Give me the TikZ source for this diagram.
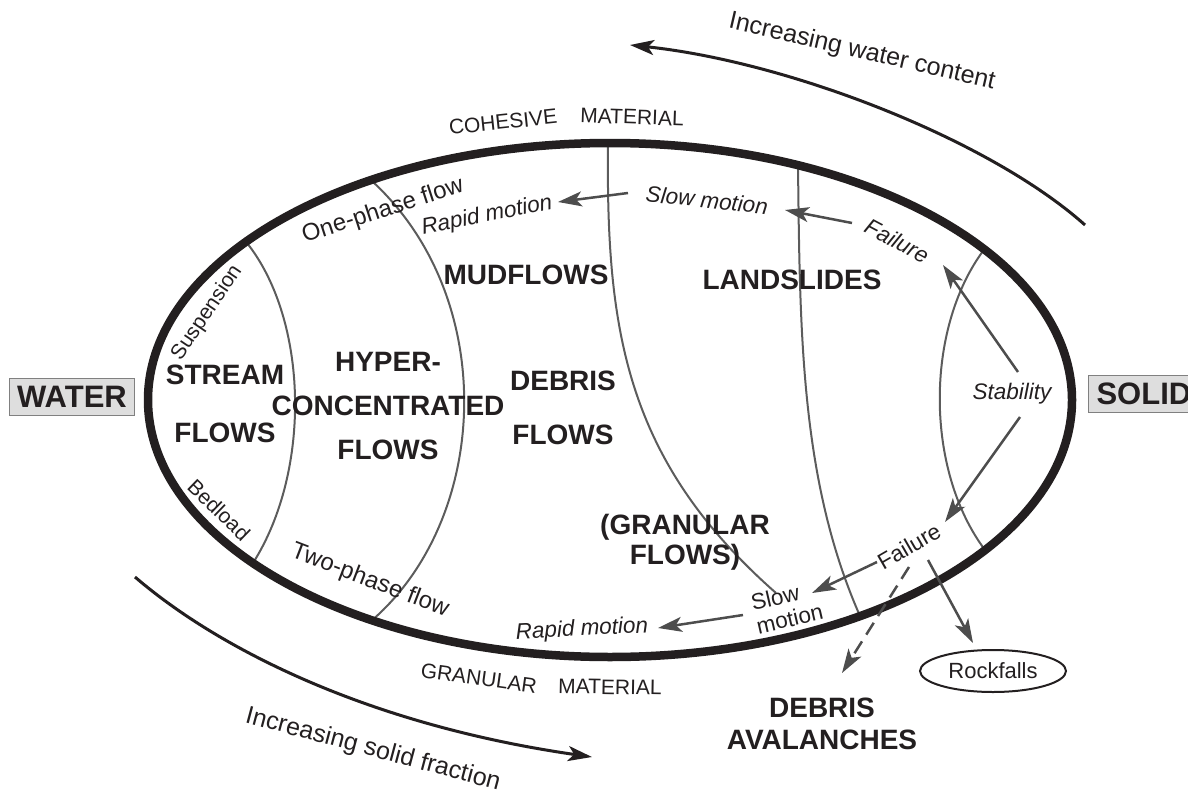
\documentclass[tikz,border=0pt]{standalone}
\usepackage{fontspec}
\setmainfont{Liberation Sans}
\usetikzlibrary{arrows.meta,shapes.geometric}

\definecolor{ink}{HTML}{231F20}
\definecolor{zoneline}{HTML}{5C5C5C}
\definecolor{movegray}{HTML}{4D4D4D}
\definecolor{boxgray}{HTML}{DEDEDE}

\begin{document}
\begin{tikzpicture}[x=1pt,y=-1pt,
    kind/.style={font=\fontsize{28}{32}\selectfont\bfseries, text=ink, align=center, inner sep=0pt},
    remark/.style={font=\fontsize{24}{25}\selectfont, text=ink, inner sep=1pt},
    motionlbl/.style={font=\fontsize{22.5}{24}\selectfont\itshape, text=ink, inner sep=1pt},
    matl/.style={font=\fontsize{21}{24}\selectfont, text=ink, inner sep=0pt},
    endbox/.style={draw=gray, fill=boxgray, line width=1pt, text=ink,
      font=\fontsize{31}{31}\selectfont\bfseries, minimum height=37pt, inner xsep=8pt},
    limitline/.style={draw=zoneline, line width=2pt},
    trendarr/.style={draw=ink, line width=3pt, -{Stealth[length=24pt,width=15pt,inset=6pt]}},
    movearr/.style={draw=movegray, line width=2.5pt, -{Stealth[length=24pt,width=15pt,inset=6pt]}}]
  \useasboundingbox (0,0) rectangle (1188,792);

  % zone limits
  \draw[limitline] (247,243) .. controls (308,320) and (312,470) .. (253,563);
  \draw[limitline] (373,182) .. controls (500,300) and (490,520) .. (370,622);
  \draw[limitline] (608,143) .. controls (606,330) and (625,460) .. (776,593);
  \draw[limitline] (798,166) .. controls (800,330) and (800,480) .. (860,616);
  \draw[limitline] (983,251) .. controls (925,330) and (925,470) .. (985,550);

  \draw[draw=ink, line width=8.5pt] (610,400) ellipse [x radius=462pt, y radius=257pt];

  \node[endbox] (water) at (72,397) {WATER};
  \node[endbox, anchor=west] (solid) at (1088,394) {SOLID};

  \node[kind] (stream) at (225,404) {STREAM\\[26pt]FLOWS};
  \node[kind] (hyper) at (388,406) {HYPER-\\[12pt]CONCENTRATED\\[12pt]FLOWS};
  \node[kind] (mud) at (526,275) {MUDFLOWS};
  \node[kind] (debris) at (563,408) {DEBRIS\\[22pt]FLOWS};
  \node[kind] (slides) at (792,280) {LANDSLIDES};
  \node[kind] (granular) at (685,542) {(GRANULAR\\[-2pt]FLOWS)};
  \node[kind] (avalanche) at (822,724) {DEBRIS\\[0pt]AVALANCHES};

  \node[matl, rotate=6] (coh) at (503,122) {COHESIVE};
  \node[matl, rotate=-2] (cohmat) at (632,117) {MATERIAL};
  \node[matl, rotate=-8] (gran) at (479,678) {GRANULAR};
  \node[matl, rotate=-1] (granmat) at (610,687) {MATERIAL};

  \node[remark, font=\fontsize{21}{22}\selectfont, rotate=56] (susp) at (207,313) {Suspension};
  \node[remark, font=\fontsize{21}{22}\selectfont, rotate=-44] (bed) at (219,510) {Bedload};
  \node[remark, rotate=18] (onephase) at (383,211) {One-phase flow};
  \node[remark, rotate=-21] (twophase) at (370,581) {Two-phase flow};
  \node[motionlbl, rotate=11] (rapidtop) at (487,216) {Rapid motion};
  \node[motionlbl, rotate=-6] (slowtop) at (707,200) {Slow motion};
  \node[motionlbl, rotate=-28] (failtop) at (897,241) {Failure};
  \node[motionlbl] (stab) at (1012,394) {Stability};
  \node[remark, font=\fontsize{22.5}{24}\selectfont, rotate=30] (failbot) at (909,546) {Failure};
  \node[remark, font=\fontsize{22.5}{24}\selectfont, rotate=13, align=left] (slowbot) at (787,607) {Slow\\motion};
  \node[motionlbl, rotate=3] (rapidbot) at (582,630) {Rapid motion};
  \node[remark, font=\fontsize{22}{24}\selectfont, draw=ink, line width=2pt, ellipse,
    minimum width=146pt, minimum height=42pt, inner sep=0pt] (rock) at (993,671) {Rockfalls};

  \node[remark, font=\fontsize{25}{26}\selectfont, rotate=-13] (wetlbl) at (862,52) {Increasing water content};
  \node[remark, font=\fontsize{25}{26}\selectfont, rotate=-15] (drylbl) at (373,750) {Increasing solid fraction};

  \coordinate (wetfrom) at (1085,225);
  \coordinate (wetto) at (630,45);
  \coordinate (dryfrom) at (135,577);
  \coordinate (dryto) at (592,757);
  \draw[trendarr] (wetfrom) .. controls (990,140) and (790,62) .. (wetto);
  \draw[trendarr] (dryfrom) .. controls (220,650) and (370,725) .. (dryto);

  \coordinate (stabup) at (1018,372);
  \coordinate (stabdown) at (1020,417);
  \coordinate (failup) at (943,265);
  \coordinate (faildown) at (945,522);
  \coordinate (failtopout) at (852,223);
  \coordinate (slowtopin) at (785,210);
  \coordinate (slowtopout) at (628,193);
  \coordinate (rapidtopin) at (558,202);
  \coordinate (failbotout) at (877,562);
  \coordinate (slowbotin) at (812,593);
  \coordinate (slowbotout) at (743,615);
  \coordinate (rapidbotin) at (658,628);
  \coordinate (rockout) at (928,560);
  \coordinate (rockin) at (973,643);
  \coordinate (avalout) at (909,567);
  \coordinate (avalin) at (842,673);

  \draw[movearr] (stabup) -- (failup);
  \draw[movearr] (stabdown) -- (faildown);
  \draw[movearr] (failtopout) -- (slowtopin);
  \draw[movearr] (slowtopout) -- (rapidtopin);
  \draw[movearr] (failbotout) -- (slowbotin);
  \draw[movearr] (slowbotout) -- (rapidbotin);
  \draw[movearr] (rockout) -- (rockin);
  \draw[movearr, dash pattern=on 14pt off 8pt] (avalout) -- (avalin);
\end{tikzpicture}
\end{document}
